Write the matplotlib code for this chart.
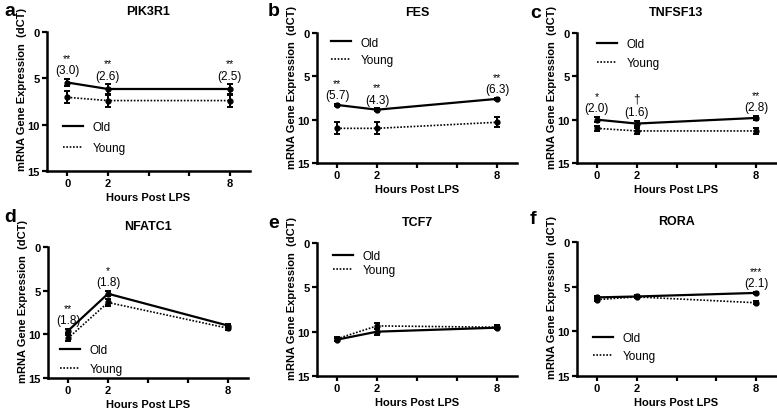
import matplotlib
matplotlib.use("Agg")
import matplotlib.pyplot as plt
from matplotlib.lines import Line2D
import numpy as np

plt.rcParams['font.family'] = ['Liberation Sans', 'DejaVu Sans']

hours = [0, 2, 8]
genes = ["PIK3R1", "FES", "TNFSF13", "NFATC1", "TCF7", "RORA"]
letters = ["a", "b", "c", "d", "e", "f"]

old_pik3r1 = [5.45, 6.15, 6.15]
old_pik3r1_err = [0.4, 0.5, 0.5]
young_pik3r1 = [7.05, 7.4, 7.4]
young_pik3r1_err = [0.65, 0.65, 0.65]

old_fes = [8.3, 8.85, 7.6]
old_fes_err = [0.15, 0.15, 0.15]
young_fes = [11.0, 11.0, 10.3]
young_fes_err = [0.7, 0.7, 0.6]

old_tnfsf13 = [10.0, 10.45, 9.8]
old_tnfsf13_err = [0.3, 0.3, 0.25]
young_tnfsf13 = [11.0, 11.3, 11.3]
young_tnfsf13_err = [0.25, 0.35, 0.3]

old_nfatc1 = [9.6, 5.35, 9.0]
old_nfatc1_err = [0.2, 0.3, 0.2]
young_nfatc1 = [10.45, 6.35, 9.3]
young_nfatc1_err = [0.35, 0.4, 0.2]

old_tcf7 = [10.9, 10.0, 9.55]
old_tcf7_err = [0.2, 0.35, 0.2]
young_tcf7 = [10.8, 9.35, 9.5]
young_tcf7_err = [0.2, 0.35, 0.2]

old_rora = [6.2, 6.1, 5.7]
old_rora_err = [0.15, 0.15, 0.15]
young_rora = [6.45, 6.15, 6.8]
young_rora_err = [0.2, 0.15, 0.15]

old_vals = [old_pik3r1, old_fes, old_tnfsf13, old_nfatc1, old_tcf7, old_rora]
old_errs = [old_pik3r1_err, old_fes_err, old_tnfsf13_err, old_nfatc1_err, old_tcf7_err, old_rora_err]
young_vals = [young_pik3r1, young_fes, young_tnfsf13, young_nfatc1, young_tcf7, young_rora]
young_errs = [young_pik3r1_err, young_fes_err, young_tnfsf13_err, young_nfatc1_err, young_tcf7_err, young_rora_err]

# significance marks and fold changes (stars, fold) per time point
sig_pik3r1 = [("**", "(3.0)"), ("**", "(2.6)"), ("**", "(2.5)")]
sig_fes = [("**", "(5.7)"), ("**", "(4.3)"), ("**", "(6.3)")]
sig_tnfsf13 = [("*", "(2.0)"), ("\u2020", "(1.6)"), ("**", "(2.8)")]
sig_nfatc1 = [("**", "(1.8)"), ("*", "(1.8)"), None]
sig_tcf7 = [None, None, None]
sig_rora = [None, None, ("***", "(2.1)")]
sigs = [sig_pik3r1, sig_fes, sig_tnfsf13, sig_nfatc1, sig_tcf7, sig_rora]

# legend placement: (x, y of centre of the two rows) in axes fraction, row spacing
legend_anchor = [(0.08, 0.24), (0.07, 0.86), (0.10, 0.84), (0.06, 0.14), (0.08, 0.85), (0.08, 0.215)]
legend_spacing = [0.72, 0.45, 0.56, 0.56, 0.2, 0.56]

W, H = 777, 410
# axes boxes in pixels: left, right, top, bottom
boxes = [(47, 250, 33, 172), (317, 517, 34, 164), (577, 776, 34, 164),
         (48, 248, 248, 379), (317, 517, 244, 377), (577, 776, 243, 377)]
letter_pos = [(4, 12), (268, 12), (530, 14), (4, 218), (268, 224), (530, 220)]

fig = plt.figure(figsize=(W / 100, H / 100), dpi=100)

for i in range(6):
    l, r, t, b = boxes[i]
    ax = fig.add_axes([l / W, 1 - b / H, (r - l) / W, (b - t) / H])
    ax.errorbar(hours, old_vals[i], yerr=old_errs[i], color='black', lw=1.6,
                marker='o', ms=3.5, capsize=2.5, elinewidth=1.4, capthick=1.4)
    ax.errorbar(hours, young_vals[i], yerr=young_errs[i], color='black', lw=1.2,
                ls=(0, (1, 1)), marker='o', ms=3.5, capsize=2.5, elinewidth=1.4,
                capthick=1.4)
    ax.set_xlim(-1, 9)
    ax.set_ylim(15, 0)
    ax.set_xticks(hours)
    ax.set_xticks([4, 6], minor=True)
    ax.set_yticks([0, 5, 10, 15])
    for s in ['top', 'right']:
        ax.spines[s].set_visible(False)
    for s in ['left', 'bottom']:
        ax.spines[s].set_linewidth(1.8)
    ax.tick_params(which='both', direction='out', width=1.6, length=3.5, pad=1.5,
                   labelsize=8)
    for lab in ax.get_xticklabels() + ax.get_yticklabels():
        lab.set_fontweight('bold')
    ax.set_xlabel("Hours Post LPS", fontsize=8, fontweight='bold', labelpad=3)
    ax.set_ylabel("mRNA Gene Expression  (dCT)", fontsize=8, fontweight='bold')
    ax.yaxis.set_label_coords(-0.1, 0.59)
    ax.set_title(genes[i], fontsize=9, fontweight='bold', pad=13)
    handles = [Line2D([], [], color='black', lw=1.6),
               Line2D([], [], color='black', lw=1.2, ls=(0, (1, 1)))]
    ax.legend(handles, ["Old", "Young"], loc='center left',
              bbox_to_anchor=legend_anchor[i], frameon=False,
              fontsize=8.5, handlelength=1.7, labelspacing=legend_spacing[i],
              borderaxespad=0, borderpad=0, handletextpad=0.8)
    for j, s in enumerate(sigs[i]):
        if s is None:
            continue
        top = min(old_vals[i][j] - old_errs[i][j], young_vals[i][j] - young_errs[i][j])
        ax.annotate(s[1], (hours[j], top), xytext=(0, 2), textcoords='offset points',
                    ha='center', va='bottom', fontsize=8.5)
        ax.annotate(s[0], (hours[j], top), xytext=(0, 11.5), textcoords='offset points',
                    ha='center', va='bottom', fontsize=7.5 if s[0] != "\u2020" else 8.5)
    fig.text(letter_pos[i][0] / W, 1 - letter_pos[i][1] / H, letters[i],
             fontsize=14, fontweight='bold', va='center', ha='left')

fig.savefig("out.png", dpi=100)
